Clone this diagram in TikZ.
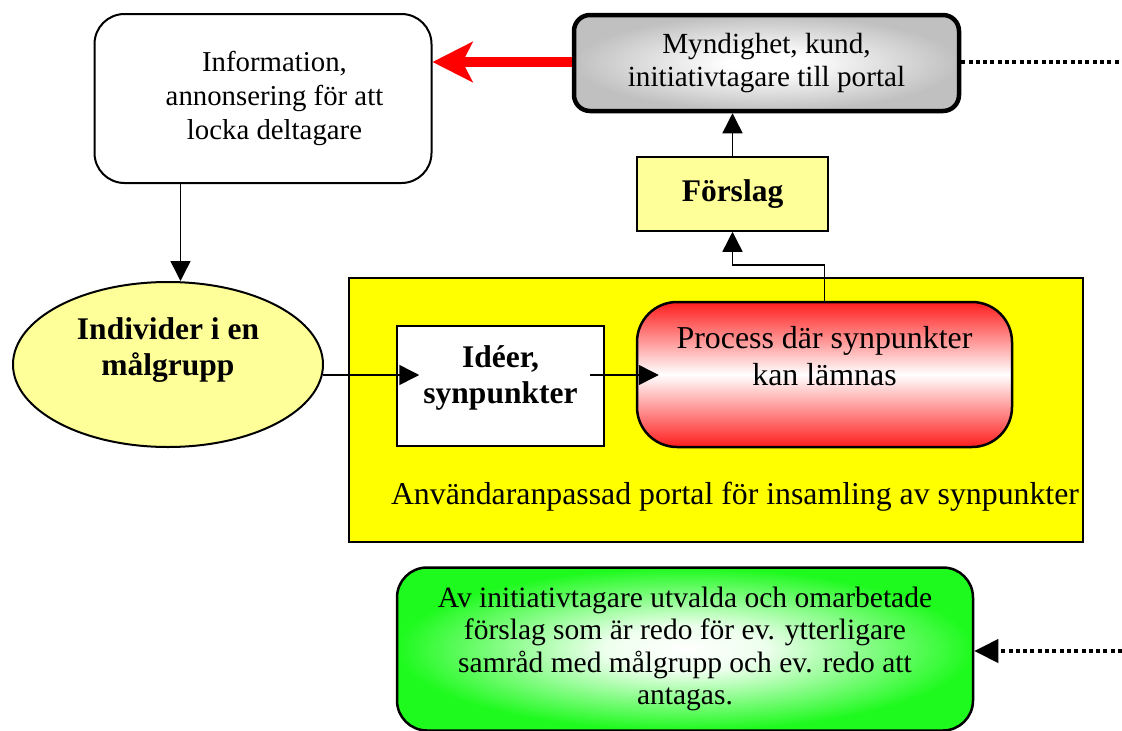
\documentclass[tikz,border=0pt]{standalone}
\usepackage{fontspec}
\setmainfont{Liberation Serif}
\usetikzlibrary{arrows.meta,calc,shapes.geometric}
\definecolor{lightyel}{HTML}{FFFF99}
\definecolor{portalyel}{HTML}{FFFF00}
\definecolor{procred}{HTML}{FF1E1E}
\definecolor{boxgreen}{HTML}{1EFA1E}
\definecolor{mgray}{HTML}{C0C0C0}
\definecolor{arrred}{HTML}{FF0000}
\pgfdeclareradialshading{greenglow}{\pgfpoint{0bp}{0bp}}{color(0bp)=(white); color(7bp)=(white!92!boxgreen); color(25bp)=(boxgreen); color(50bp)=(boxgreen)}
\pgfdeclareradialshading{grayglow}{\pgfpoint{0bp}{0bp}}{color(0bp)=(white); color(5bp)=(white); color(25bp)=(mgray); color(50bp)=(mgray)}
\newcommand{\fsz}[2]{\fontsize{#1}{#2}\selectfont}
\begin{document}
\begin{tikzpicture}[x=1pt,y=-1pt,
  shapebox/.style={draw=black, align=center, inner sep=0pt, text=black},
  arr/.style={line width=1.5pt, -{Triangle[length=20pt,width=20pt]}},
  redarr/.style={draw=arrred, line width=10pt, -{Stealth[length=40pt,width=40pt,inset=10pt]}},
  dotline/.style={line width=4pt, dash pattern=on 4pt off 3.3pt},
  dotarr/.style={dotline, -{Triangle[length=24pt,width=23pt]}}
]
\useasboundingbox (0,0) rectangle (1122,731);

% yellow portal container
\node[shapebox, fill=portalyel, line width=1.5pt, minimum width=734pt, minimum height=264pt] (portal) at (716,410) {};
\node[text=black, font=\fsz{31.8}{36}, inner sep=0pt] (portalT) at (735,497) {Användaranpassad portal för insamling av synpunkter};

% information box
\node[shapebox, fill=white, rounded corners=30pt, line width=2pt, minimum width=337pt, minimum height=169pt, font=\fsz{28.8}{34}] (info) at (263,98.5)
  {\hspace*{23pt}Information,\\\hspace*{23pt}annonsering för att\\\hspace*{23pt}locka deltagare};

% authority box
\node[shapebox, rounded corners=16pt, line width=4.5pt, minimum width=385pt, minimum height=96pt, shade, shading=grayglow, font=\fsz{29.2}{33}] (mynd) at (766.5,63)
  {Myndighet, kund,\\initiativtagare till portal};

% proposal box
\node[shapebox, fill=lightyel, line width=1.5pt, minimum width=191pt, minimum height=74pt, font=\bfseries\fsz{31.5}{36}] (forslag) at (732.5,194) {Förslag};

% target group ellipse
\node[shapebox, ellipse, fill=lightyel, line width=2pt, minimum width=310pt, minimum height=165pt, font=\bfseries\fsz{31.5}{36}] (ind) at (168,364.5)
  {Individer i en\\målgrupp\\\mbox{}};

% ideas box
\node[shapebox, fill=white, line width=1.5pt, minimum width=207pt, minimum height=120pt, font=\bfseries\fsz{31.5}{36}] (idea) at (500.5,386)
  {Idéer,\\synpunkter\\[-14pt]\mbox{}};

% process box
\node[shapebox, rounded corners=40pt, line width=2.5pt, minimum width=375pt, minimum height=145pt, top color=procred, bottom color=procred, middle color=white, font=\fsz{31.9}{37}] (proc) at (824.5,374.5)
  {Process där synpunkter\\kan lämnas\\\mbox{}};

% green result box
\node[shapebox, rounded corners=30pt, line width=2.5pt, minimum width=576pt, minimum height=163pt, shade, shading=greenglow, font=\fsz{29.5}{32.5}] (green) at (685,649)
  {Av initiativtagare utvalda och omarbetade\\förslag som är redo för ev. ytterligare\\samråd med målgrupp och ev. redo att\\antagas.};

% free ends at the right margin
\coordinate (edgeA) at (1122,62);
\coordinate (edgeB) at (1122,651);

% connectors
\draw[redarr] (mynd.west |- edgeA) -- (info.east |- edgeA);
\draw[dotline] (mynd.east |- edgeA) -- (edgeA);
\draw[dotarr] (edgeB) -- (green.east |- edgeB);
\draw[arr] (forslag.north) -- (forslag.north |- mynd.south);
\draw[arr] (proc.north) -- ++(0,-36) -| (forslag.south);
\draw[arr] ($(info.south west)+(87,0)$) coordinate (infoOut) -- (infoOut |- ind.north);
\draw[arr] ($(ind.east)+(-1,10.5)$) -- ($(idea.west)+(23,-11)$);
\draw[arr] ($(idea.east)+(-15,-11)$) -- ($(proc.west)+(23,0.5)$);
\end{tikzpicture}
\end{document}
